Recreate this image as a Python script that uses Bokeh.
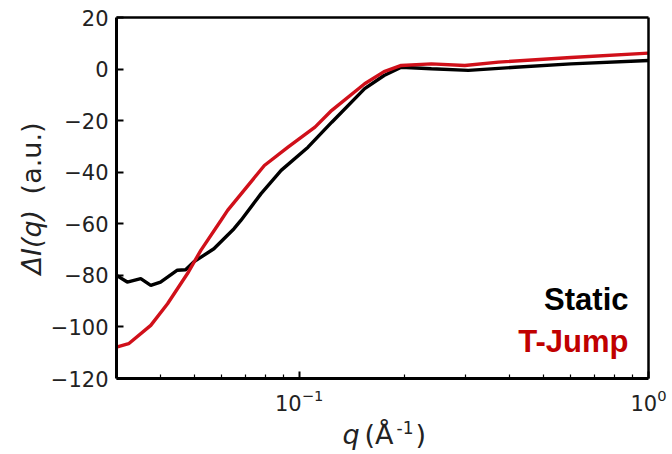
import math
from bokeh.plotting import figure
from bokeh.models import Range1d, FixedTicker, Label, LogAxis, LinearAxis
from bokeh.embed import file_html
from bokeh.resources import INLINE

# ---- data ----
static_q = [0.030, 0.0322, 0.0352, 0.0376, 0.0401, 0.0448, 0.0473, 0.0499, 0.0570,
            0.0651, 0.0681, 0.0778, 0.0888, 0.106, 0.124, 0.154, 0.175, 0.196,
            0.239, 0.305, 0.415, 0.6, 1.0]
static_v = [-80, -82.6, -81.3, -83.9, -82.6, -78, -77.8, -74.8, -69.7,
            -61.9, -58.7, -48.3, -39.3, -30.3, -20.6, -7.6, -2.5, 0.7,
            0.1, -0.5, 0.7, 2.0, 3.3]

tjump_q = [0.030, 0.0325, 0.0376, 0.0420, 0.0479, 0.0523, 0.0597, 0.0624, 0.0795,
           0.0929, 0.111, 0.124, 0.154, 0.175, 0.196, 0.239, 0.298, 0.372, 0.6, 1.0]
tjump_v = [-107.8, -106.5, -99.4, -91, -79.3, -70.3, -58.7, -54.8, -37.4,
           -30.3, -22.5, -16, -5.7, -1, 1.4, 2.0, 1.4, 2.7, 4.5, 6.2]

x_lim = [0.03, 1.0]
y_lim = [-120, 20]
x_major = [0.1, 1.0]
x_minor = [0.04, 0.05, 0.06, 0.07, 0.08, 0.09, 0.2, 0.3, 0.4, 0.5, 0.6, 0.7, 0.8, 0.9]
y_ticks = [-120, -100, -80, -60, -40, -20, 0, 20]

series_names = ["Static", "T-Jump"]

# ---- layout (pixels on the canvas) ----
W, H = 670, 452
AX_L, AX_R, AX_T, AX_B = 116, 648, 17, 378   # axes box inside canvas

BLACK = "#000000"
RED_LINE = "#d0101a"
RED_TEXT = "#c00000"
TICK_FONT = "DejaVu Sans"

# extend the ranges so the axes box sits where the reference has it
lx0, lx1 = math.log10(x_lim[0]), math.log10(x_lim[1])
ppd = (AX_R - AX_L) / (lx1 - lx0)
xr = Range1d(10 ** (lx0 - AX_L / ppd), 10 ** (lx1 + (W - AX_R) / ppd))
ppu = (AX_B - AX_T) / (y_lim[1] - y_lim[0])
yr = Range1d(y_lim[0] - (H - AX_B) / ppu, y_lim[1] + AX_T / ppu)

p = figure(width=W, height=H, x_axis_type="log", x_axis_location=None,
           y_axis_location=None, x_range=xr, y_range=yr,
           output_backend="svg", toolbar_location=None,
           min_border=0)

p.grid.visible = False
p.background_fill_color = "white"
p.border_fill_color = "white"
p.outline_line_color = None

p.line(static_q, static_v, line_color=BLACK, line_width=3.4)
p.line(tjump_q, tjump_v, line_color=RED_LINE, line_width=3.4)

# bottom axis
xa = LogAxis(fixed_location=y_lim[0], bounds=(x_lim[0], x_lim[1]),
             ticker=FixedTicker(ticks=x_major, minor_ticks=x_minor))
xa.axis_line_width = 3
xa.major_tick_in = 7
xa.major_tick_out = 0
xa.major_tick_line_width = 2
xa.minor_tick_in = 4
xa.minor_tick_out = 0
xa.minor_tick_line_width = 1.2
xa.major_label_text_font = TICK_FONT
xa.major_label_text_font_size = "21px"
xa.major_label_text_color = "#222222"
xa.major_label_standoff = 10
p.add_layout(xa, "below")

# left axis
ya = LinearAxis(fixed_location=x_lim[0], bounds=(y_lim[0], y_lim[1]),
                ticker=FixedTicker(ticks=y_ticks))
ya.axis_line_width = 3
ya.major_tick_in = 7
ya.major_tick_out = 0
ya.major_tick_line_width = 2
ya.minor_tick_in = 0
ya.minor_tick_out = 0
ya.major_label_text_font = TICK_FONT
ya.major_label_text_font_size = "21px"
ya.major_label_text_color = "#222222"
ya.major_label_standoff = 8
ya.major_label_overrides = {t: (("\u2212" + str(-t)) if t < 0 else str(t)) for t in y_ticks}
p.add_layout(ya, "left")

# top and right frame lines (plain axes without ticks or labels)
for ax, side in ((LogAxis(fixed_location=y_lim[1], bounds=(x_lim[0], x_lim[1])), "above"),
                 (LinearAxis(fixed_location=x_lim[1], bounds=(y_lim[0], y_lim[1])), "right")):
    ax.axis_line_width = 2.5
    ax.major_tick_in = 0
    ax.major_tick_out = 0
    ax.minor_tick_in = 0
    ax.minor_tick_out = 0
    ax.major_label_text_font_size = "0px"
    ax.major_label_text_alpha = 0
    p.add_layout(ax, side)

# axis labels (mixed italic / upright), screen units from canvas bottom-left
LBL = dict(x_units="screen", y_units="screen", text_font=TICK_FONT,
           text_color="#222222", text_baseline="middle")
p.add_layout(Label(x=31, y=H - 274, text="\u0394I(q)", angle=math.pi / 2,
                   text_font_style="italic", text_font_size="27px",
                   text_align="left", **LBL))
p.add_layout(Label(x=31, y=H - 122, text="(a.u.)", angle=math.pi / 2,
                   text_font_size="27px", text_align="right", **LBL))

XC = H - 434
p.add_layout(Label(x=342, y=XC, text="q", text_font_style="italic",
                   text_font_size="27px", text_align="left", **LBL))
p.add_layout(Label(x=364, y=XC, text="(\u00c5", text_font_size="27px",
                   text_align="left", **LBL))
p.add_layout(Label(x=396, y=H - 427, text="-1", text_font_size="17px",
                   text_align="left", **LBL))
p.add_layout(Label(x=415, y=XC, text=")", text_font_size="27px",
                   text_align="left", **LBL))

# in-plot legend texts
LEG = dict(x_units="screen", y_units="screen", text_font="Liberation Sans",
           text_font_style="bold", text_font_size="31px",
           text_align="right", text_baseline="middle")
p.add_layout(Label(x=628, y=H - 299, text=series_names[0], text_color=BLACK, **LEG))
p.add_layout(Label(x=628, y=H - 341, text=series_names[1], text_color=RED_TEXT, **LEG))

open("out.html", "w").write(file_html(p, INLINE))
